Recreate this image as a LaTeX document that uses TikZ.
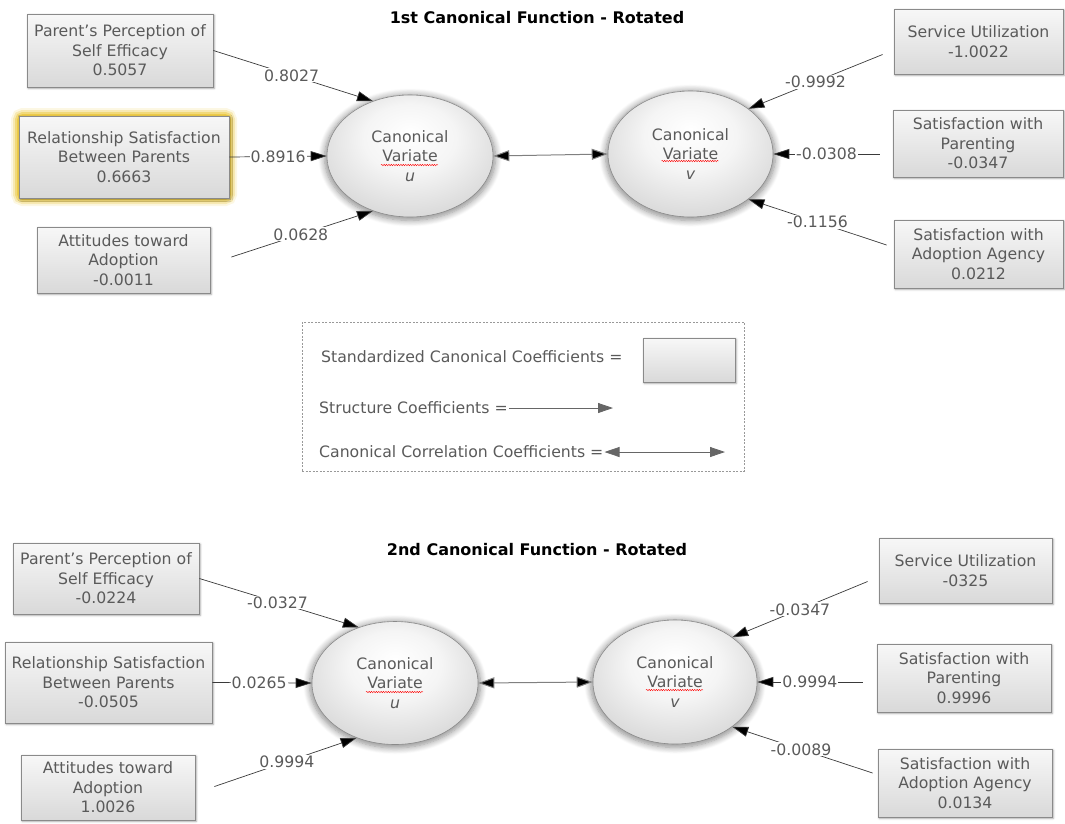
\documentclass[tikz,border=0pt]{standalone}
\usepackage{fontspec}
\setmainfont{DejaVu Sans}
\usetikzlibrary{arrows.meta,shapes.geometric,shadows.blur,decorations.pathmorphing}
\definecolor{txt}{HTML}{5A5A5A}
\definecolor{edgec}{HTML}{8A8A8A}
\definecolor{lin}{HTML}{3A3A3A}
\definecolor{glowc}{HTML}{EBC944}
\pgfdeclareradialshading{ellshade}{\pgfpoint{0bp}{10bp}}{color(0bp)=(white); color(14bp)=(white!96!black); color(34bp)=(white!82!black); color(50bp)=(white!70!black)}
\tikzset{
  varbox/.style={rectangle, draw=edgec, line width=0.8pt, top color=white!97!black, bottom color=white!85!black,
    text=txt, align=center, inner sep=0pt, font=\fontsize{15.7}{19.5}\selectfont,
    blur shadow={shadow xshift=1.2pt, shadow yshift=-1.2pt, shadow blur steps=6, shadow opacity=35}},
  cvar/.style={ellipse, draw=edgec, line width=0.6pt, shading=ellshade, text=txt, align=center, inner sep=0pt,
    font=\fontsize{15.7}{19.5}\selectfont,
    blur shadow={shadow xshift=0pt, shadow yshift=-1.5pt, shadow scale=1.03, shadow blur radius=6pt, shadow blur steps=8, shadow opacity=45}},
  coef/.style={fill=white, text=txt, inner sep=1pt, font=\fontsize{15.7}{18}\selectfont},
  link/.style={draw=lin, line width=0.7pt, -{Triangle[length=16pt,width=10pt,fill=black]}},
  corr/.style={draw=gray, line width=1pt, {Triangle[length=16pt,width=11pt,fill=black]}-{Triangle[length=16pt,width=11pt,fill=black]}},
  legtext/.style={anchor=west, text=txt, inner sep=1pt, font=\fontsize{15.7}{18}\selectfont},
  legarrow/.style={draw=gray!80!black, line width=0.8pt, -{Triangle[length=15pt,width=10pt]}},
  legdouble/.style={draw=gray!80!black, line width=0.8pt, {Triangle[length=15pt,width=10pt]}-{Triangle[length=15pt,width=10pt]}},
  ttl/.style={font=\bfseries\fontsize{16}{19}\selectfont, text=black},
  squig/.style={draw=red, line width=0.4pt, decorate, decoration={snake, amplitude=0.7pt, segment length=2.4pt}},
  glowline/.style={draw=glowc, rounded corners=4pt}
}
\begin{document}
\begin{tikzpicture}[x=1pt,y=-1pt]
\useasboundingbox (0,0) rectangle (1065,823);

% ---------- highlight glow behind the selected box ----------
\draw[glowline, line width=16pt, opacity=0.15] (19,116) rectangle (229,198);
\draw[glowline, line width=12pt, opacity=0.3] (19,116) rectangle (229,198);
\draw[glowline, line width=8pt, opacity=0.5] (19,116) rectangle (229,198);
\draw[glowline, line width=4pt, opacity=0.9] (19,116) rectangle (229,198);

% ---------- 1st function ----------
\node[ttl] (t1) at (537,18) {1st Canonical Function - Rotated};

\node[varbox, minimum width=186pt, minimum height=73pt] (P1) at (120,50.5) {Parent's Perception of\\Self Efficacy\\0.5057};
\node[varbox, minimum width=210pt, minimum height=82pt] (R1) at (124,157) {Relationship Satisfaction\\Between Parents\\0.6663};
\node[varbox, minimum width=173pt, minimum height=66pt] (A1) at (123.5,260) {Attitudes toward\\Adoption\\-0.0011};

\node[varbox, minimum width=169pt, minimum height=65pt] (S1) at (978.5,41.5) {Service Utilization\\-1.0022};
\node[varbox, minimum width=170pt, minimum height=67pt] (Pa1) at (978,143.5) {Satisfaction with\\Parenting\\-0.0347};
\node[varbox, minimum width=169pt, minimum height=68pt] (Ag1) at (978.5,254) {Satisfaction with\\Adoption Agency\\0.0212};

\node[cvar, minimum width=166pt, minimum height=122pt] (u1) at (410,156) {Canonical\\Variate\\\textit{u}};
\node[cvar, minimum width=165pt, minimum height=126pt] (v1) at (690.5,154) {Canonical\\Variate\\\textit{v}};
\draw[squig] ([shift={(-29,9)}]u1.center) -- ([shift={(28,9)}]u1.center);
\draw[squig] ([shift={(-29,7)}]v1.center) -- ([shift={(28,7)}]v1.center);

\draw[link] (P1.east) -- node[coef, pos=0.49] {0.8027} (u1.124);
\draw[link] (R1.east) -- node[coef, pos=0.5] {0.8916} (u1.west);
\draw[link] ([shift={(21,-3)}]A1.east) -- node[coef, pos=0.49] {0.0628} (u1.236);

\draw[link] ([shift={(-11,13)}]S1.west) -- node[coef, pos=0.5] {-0.9992} (v1.38);
\draw[link] ([shift={(-13,10.5)}]Pa1.west) -- node[coef, pos=0.5] {-0.0308} (v1.east);
\draw[link] ([shift={(-7,-9)}]Ag1.west) -- node[coef, pos=0.5] {-0.1156} (v1.322);

\draw[corr] (u1.east) -- (v1.west);

% ---------- legend ----------
\node[draw=gray!80, dash pattern=on 2pt off 1.5pt, line width=0.6pt, minimum width=442pt, minimum height=149pt, inner sep=0pt] (legend) at (523,396.5) {};
\node[legtext] (l1) at (320,357) {Standardized Canonical Coefficients =};
\node[varbox, minimum width=92pt, minimum height=44pt] (lbox) at (689,360) {};
\node[legtext] (l2) at (318,408) {Structure Coefficients =};
\coordinate (l2e) at (613,408);
\draw[legarrow] (l2.east) -- (l2e);
\node[legtext] (l3) at (318,452) {Canonical Correlation Coefficients =};
\coordinate (l3e) at (725,452);
\draw[legdouble] (l3.east) -- (l3e);

% ---------- 2nd function ----------
\node[ttl] (t2) at (537,550) {2nd Canonical Function - Rotated};

\node[varbox, minimum width=186pt, minimum height=71pt] (P2) at (106,578.5) {Parent's Perception of\\Self Efficacy\\-0.0224};
\node[varbox, minimum width=207pt, minimum height=81pt] (R2) at (108.5,682.5) {Relationship Satisfaction\\Between Parents\\-0.0505};
\node[varbox, minimum width=174pt, minimum height=65pt] (A2) at (108,787.5) {Attitudes toward\\Adoption\\1.0026};

\node[varbox, minimum width=173pt, minimum height=65pt] (S2) at (965.5,570.5) {Service Utilization\\-0325};
\node[varbox, minimum width=174pt, minimum height=68pt] (Pa2) at (964,678) {Satisfaction with\\Parenting\\0.9996};
\node[varbox, minimum width=174pt, minimum height=68pt] (Ag2) at (965,783) {Satisfaction with\\Adoption Agency\\0.0134};

\node[cvar, minimum width=166pt, minimum height=123pt] (u2) at (395,683) {Canonical\\Variate\\\textit{u}};
\node[cvar, minimum width=164pt, minimum height=124pt] (v2) at (675,682) {Canonical\\Variate\\\textit{v}};
\draw[squig] ([shift={(-29,9)}]u2.center) -- ([shift={(28,9)}]u2.center);
\draw[squig] ([shift={(-29,8)}]v2.center) -- ([shift={(28,8)}]v2.center);

\draw[link] (P2.east) -- node[coef, pos=0.49] {-0.0327} (u2.123);
\draw[link] (R2.east) -- node[coef, pos=0.47] {0.0265} (u2.west);
\draw[link] ([shift={(19,-1)}]A2.east) -- node[coef, pos=0.51] {0.9994} (u2.235);

\draw[link] ([shift={(-11,11)}]S2.west) -- node[coef, pos=0.5] {-0.0347} (v2.38);
\draw[link] ([shift={(-14,4)}]Pa2.west) -- node[coef, pos=0.5] {0.9994} (v2.east);
\draw[link] ([shift={(-5,-10)}]Ag2.west) -- node[coef, pos=0.51] {-0.0089} (v2.322);

\draw[corr] (u2.east) -- (v2.west);
\end{tikzpicture}
\end{document}
